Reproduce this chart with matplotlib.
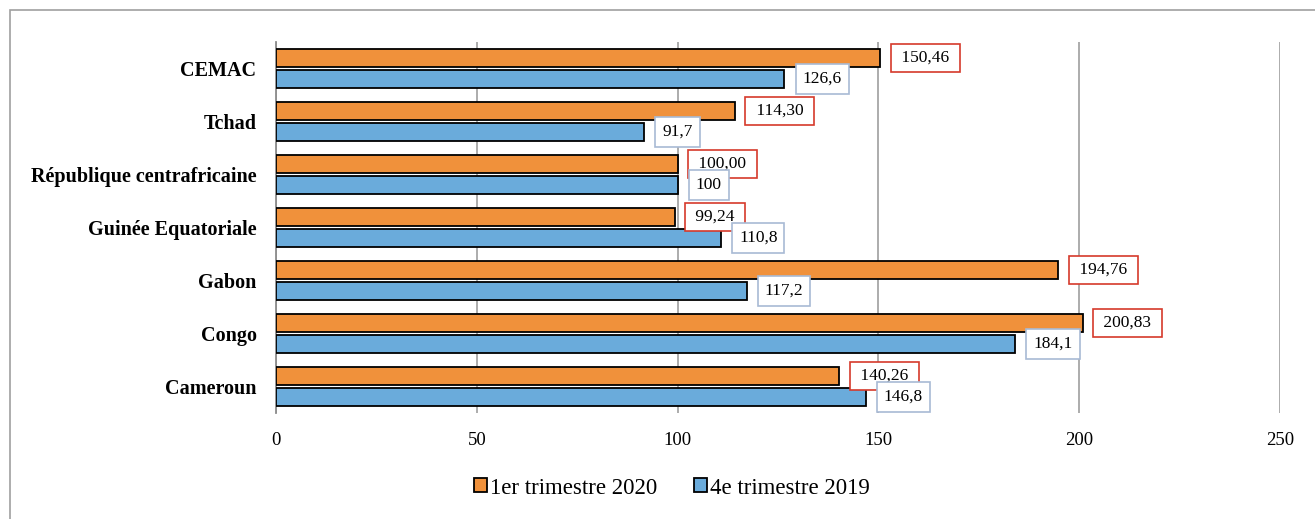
import matplotlib.pyplot as plt
from matplotlib.patches import Rectangle
import numpy as np

categories = ["CEMAC", "Tchad", "République centrafricaine", "Guinée Equatoriale",
              "Gabon", "Congo", "Cameroun"]
t1_2020 = [150.46, 114.30, 100.00, 99.24, 194.76, 200.83, 140.26]
t4_2019 = [126.6, 91.7, 100, 110.8, 117.2, 184.1, 146.8]
lbl_2020 = ["150,46", "114,30", "100,00", "99,24", "194,76", "200,83", "140,26"]
lbl_2019 = ["126,6", "91,7", "100", "110,8", "117,2", "184,1", "146,8"]
series_names = ["1er trimestre 2020", "4e trimestre 2019"]

orange = "#F0913B"
blue = "#6AABDB"
grid_col = "#A6A6A6"

plt.rcParams['font.family'] = ['Liberation Serif', 'DejaVu Serif']

fig = plt.figure(figsize=(13.15, 5.19), dpi=100)
ax = fig.add_axes([276 / 1315, 1 - 413 / 519, (1280 - 276) / 1315, (413 - 42) / 519])

# outer frame of the chart area
fig.patches.append(Rectangle((10 / 1315, -0.1), 1.2, 1 - 10 / 519 + 0.1,
                             transform=fig.transFigure, fill=False,
                             edgecolor="#A0A0A0", linewidth=1.2))

y = np.arange(len(categories))
h = 0.34
off = 0.2
b1 = ax.barh(y - off, t1_2020, height=h, color=orange, edgecolor="black",
             linewidth=1.3, label=series_names[0], zorder=3)
b2 = ax.barh(y + off, t4_2019, height=h, color=blue, edgecolor="black",
             linewidth=1.3, label=series_names[1], zorder=3)

for yy, v, s in zip(y - off, t1_2020, lbl_2020):
    ax.annotate(" " + s + " ", (v, yy), xytext=(12, 0), textcoords="offset points",
                va="center", ha="left", fontsize=12.5, zorder=4,
                bbox=dict(boxstyle="square,pad=0.36", fc="white",
                          ec="#D63A2B", lw=1.2))
for yy, v, s in zip(y + off, t4_2019, lbl_2019):
    ax.annotate(s, (v, yy), xytext=(13, 0), textcoords="offset points",
                va="center", ha="left", fontsize=12.5, zorder=4,
                bbox=dict(boxstyle="square,pad=0.4", fc="white",
                          ec="#A8BAD4", lw=1.2))

ax.set_xlim(0, 250)
ax.set_ylim(len(categories) - 0.5, -0.5)
ax.set_xticks(np.arange(0, 251, 50))
ax.set_yticks(y)
ax.set_yticklabels(categories, fontweight="bold", fontsize=14.5)
ax.tick_params(axis="x", length=0, pad=14, labelsize=13.5)
ax.tick_params(axis="y", length=0, pad=14)
ax.grid(axis="x", color=grid_col, linewidth=1.3, zorder=0)
for s in ["top", "right", "bottom"]:
    ax.spines[s].set_visible(False)
ax.spines["left"].set_color("#8C8C8C")
ax.spines["left"].set_linewidth(1.3)

fig.legend(handles=[b1, b2], labels=series_names, loc="center",
           bbox_to_anchor=(672 / 1315, 1 - 488 / 519), ncol=2, frameon=False,
           fontsize=16.5, handlelength=0.55, handleheight=0.55, handletextpad=0.15,
           columnspacing=1.6)

fig.savefig("out.png", dpi=100)
